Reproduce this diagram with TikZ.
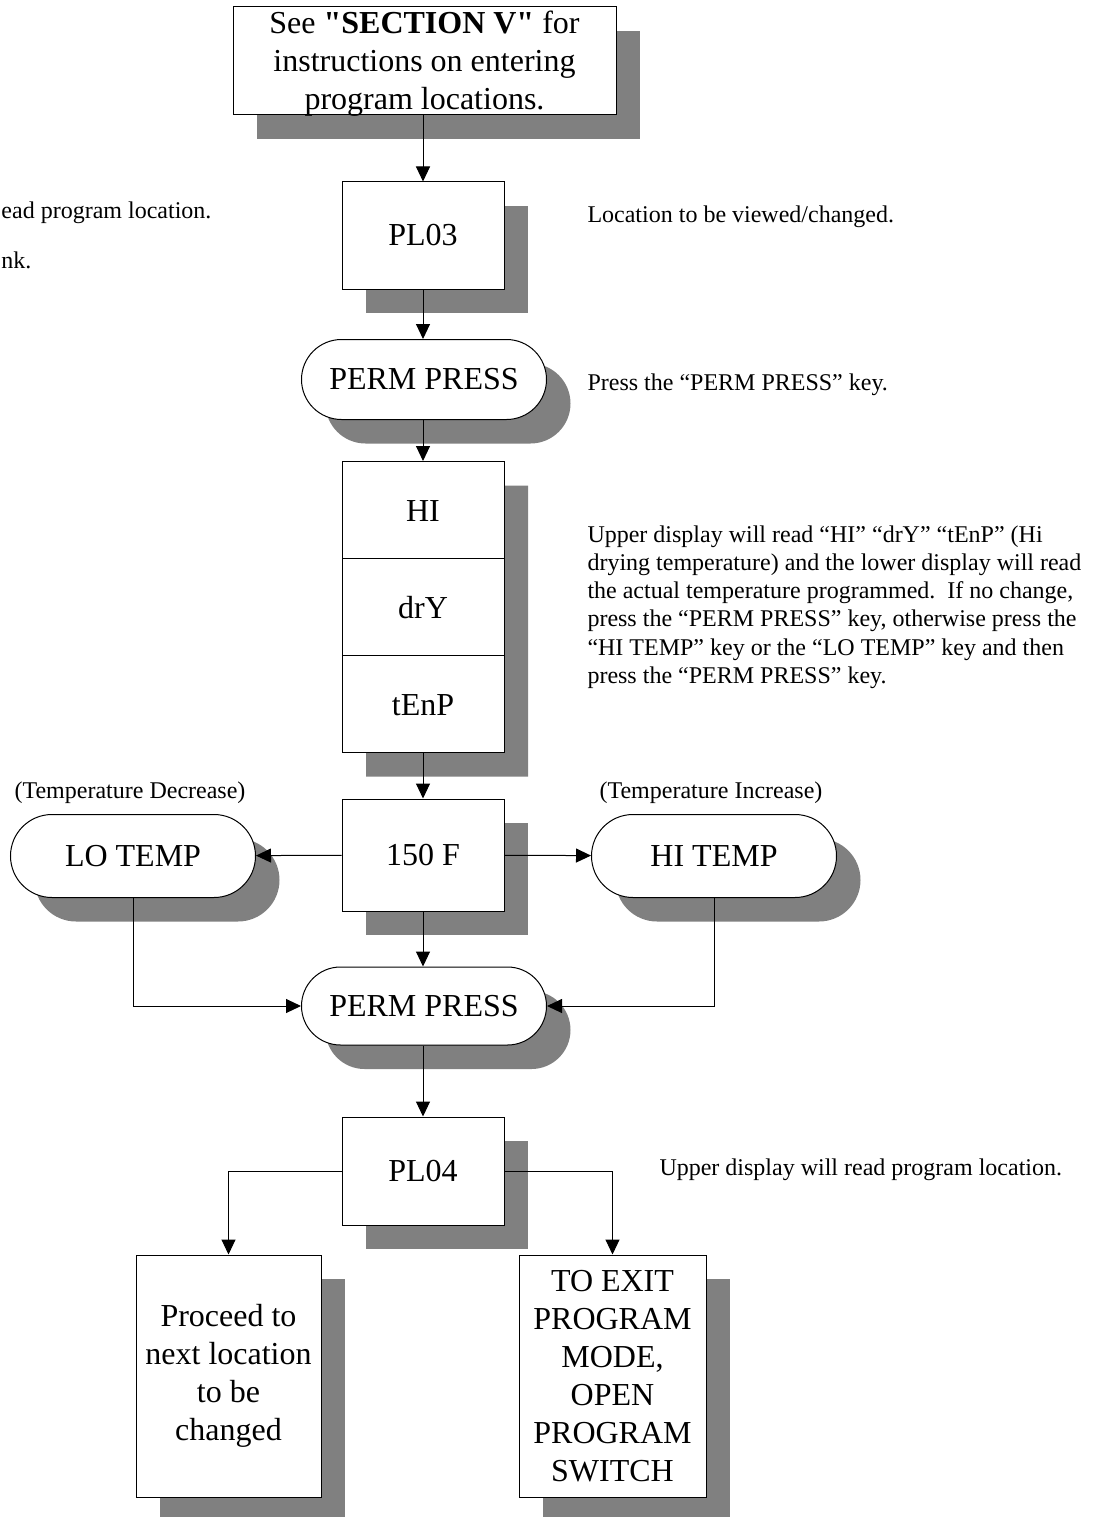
\documentclass[tikz,border=0pt]{standalone}
\usepackage{fontspec}
\setmainfont{Liberation Serif}
\usetikzlibrary{arrows.meta,positioning,shapes.misc,shapes.multipart,shadows}

\tikzset{
  bigtext/.style={font=\fontsize{32}{38}\selectfont},
  smalltext/.style={font=\fontsize{24}{28.2}\selectfont},
  boxshadow/.style={drop shadow={shadow xshift=24pt, shadow yshift=-24pt,
                    fill=gray, opacity=1}},
  box/.style={draw, fill=white, inner sep=0pt, bigtext, align=center,
              boxshadow, minimum width=162pt},
  pill/.style={rounded rectangle, draw, fill=white, inner sep=0pt, bigtext,
               boxshadow, minimum width=245pt, minimum height=80pt},
  note/.style={smalltext, align=left, anchor=west, inner sep=0pt},
  flow/.style={-{Triangle[width=14pt,length=15pt]}},
}
\newcommand{\partstrut}{\rule[-37pt]{0pt}{96pt}}

\begin{document}
\begin{tikzpicture}[x=1pt, y=1pt, line width=1pt]
    \useasboundingbox (0,0) rectangle (1095,-1517);
    % Start -------------------------------------------------------------
    \node[box, minimum width=383pt, minimum height=108pt] (start) at (424.5,-61) {};
    \node[bigtext, align=center, inner sep=0pt] (starttext) at (424.5,-64)
        {See \textbf{\textquotedbl SECTION V\textquotedbl} for\\
         instructions on entering\\ program locations.};
    \node[box, minimum height=107pt] (pl03) at (423,-235.5) {PL03};
    \node[pill] (perm1) at (424,-379.5) {PERM PRESS};
    % Display -----------------------------------------------------------
    \node[draw, fill=white, inner sep=0pt, bigtext, boxshadow, minimum width=162pt,
          rectangle split, rectangle split parts=3] (disp) at (423,-607)
        {\partstrut HI \nodepart{two}\partstrut drY \nodepart{three}\partstrut tEnP};
    \node[box, minimum height=112pt] (f150) at (423,-855) {150 F};
    \node[pill, minimum height=83pt] (lotemp) at (133,-856) {LO TEMP};
    \node[pill, minimum height=83pt] (hitemp) at (714,-856) {HI TEMP};
    \node[smalltext, inner sep=0pt] (declbl) at (130,-793) {(Temperature Decrease)};
    \node[smalltext, inner sep=0pt] (inclbl) at (711,-793) {(Temperature Increase)};
    \node[pill, minimum height=78pt] (perm2) at (424,-1006) {PERM PRESS};
    % Exit --------------------------------------------------------------
    \node[box, minimum height=108pt] (pl04) at (423,-1171) {PL04};
    \node[box, minimum width=185pt, minimum height=242pt] (next) at (228.5,-1376)
        {Proceed to\\ next location\\ to be\\ changed};
    \node[box, minimum width=187pt, minimum height=242pt] (exit) at (612.5,-1376)
        {TO EXIT\\ PROGRAM\\ MODE,\\ OPEN\\ PROGRAM\\ SWITCH};
    % Notes -------------------------------------------------------------
    \node[note] (lnote1) at (1,-213) {ead program location.};
    \node[note] (lnote2) at (1,-260) {nk.};
    \node[note] (rnote1) at (587,-217) {Location to be viewed/changed.};
    \node[note] (rnote2) at (587,-385) {Press the “PERM PRESS” key.};
    \node[note] (rnote3) at (587,-607)
        {Upper display will read “HI” “drY” “tEnP” (Hi\\
         drying temperature) and the lower display will read\\
         the actual temperature programmed.\ \ If no change,\\
         press the “PERM PRESS” key, otherwise press the\\
         “HI TEMP” key or the “LO TEMP” key and then\\
         press the “PERM PRESS” key.};
    \node[note] (rnote4) at (659,-1170) {Upper display will read program location.};
    % Connectors --------------------------------------------------------
    \draw[flow] (start.south -| pl03) -- (pl03.north);
    \draw[flow] (pl03) -- (perm1.north -| pl03);
    \draw[flow] (perm1.south -| disp) -- (disp.north);
    \draw[flow] (disp) -- (f150);
    \draw[flow] (f150) -- (lotemp);
    \draw[flow] (f150) -- (hitemp);
    \draw[flow] (f150.south) -- (perm2.north -| f150);
    \draw[flow] (lotemp.south) |- (perm2.west);
    \draw[flow] (hitemp.south) |- (perm2.east);
    \draw[flow] (perm2.south -| pl04) -- (pl04.north);
    \draw[flow] (pl04.west) -| (next.north);
    \draw[flow] (pl04.east) -| (exit.north);
\end{tikzpicture}
\end{document}
